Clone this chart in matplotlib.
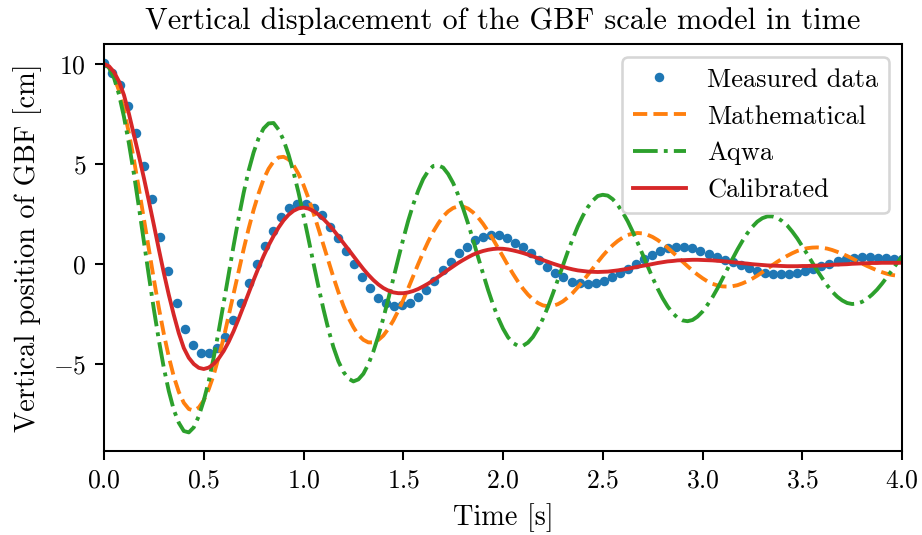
import numpy as np
import matplotlib
matplotlib.use("Agg")
import matplotlib.pyplot as plt

# Measured heave of the scale model, sampled 100 times over 4 s
t_measured = np.linspace(0.0, 4.0, 100)
z_measured = [
    10.07, 9.57, 8.97, 7.90, 6.53, 4.92, 3.23, 1.37, -0.33, -1.93,
    -3.23, -4.03, -4.43, -4.43, -4.20, -3.63, -2.80, -1.93, -0.97, 0.00,
    0.90, 1.67, 2.37, 2.78, 3.00, 3.00, 2.78, 2.45, 1.87, 1.28,
    0.67, -0.02, -0.67, -1.18, -1.68, -1.97, -2.08, -2.05, -1.93, -1.67,
    -1.30, -0.83, -0.30, 0.12, 0.53, 0.87, 1.20, 1.37, 1.45, 1.45,
    1.28, 1.07, 0.87, 0.57, 0.20, -0.13, -0.47, -0.67, -0.88, -0.93,
    -1.00, -0.97, -0.83, -0.63, -0.45, -0.24, 0.00, 0.25, 0.47, 0.66,
    0.80, 0.86, 0.86, 0.78, 0.66, 0.50, 0.35, 0.22, 0.08, -0.05,
    -0.20, -0.33, -0.44, -0.50, -0.52, -0.50, -0.44, -0.35, -0.23, -0.11,
    0.02, 0.14, 0.24, 0.30, 0.33, 0.33, 0.32, 0.30, 0.27, 0.25,
]

# Model responses, tabulated every 0.025 s (one row = 0.25 s)
t_model = np.linspace(0.0, 4.0, 161)
z_mathematical = [
    10.00, 9.84, 9.39, 8.67, 7.71, 6.54, 5.21, 3.76, 2.25, 0.73,
    -0.77, -2.20, -3.50, -4.65, -5.63, -6.40, -6.94, -7.25, -7.33, -7.18,
    -6.82, -6.26, -5.54, -4.65, -3.69, -2.59, -1.47, -0.36, 0.74, 1.77,
    2.71, 3.53, 4.24, 4.76, 5.13, 5.33, 5.36, 5.23, 4.94, 4.50,
    3.95, 3.29, 2.55, 1.76, 0.95, 0.13, -0.66, -1.41, -2.09, -2.68,
    -3.16, -3.55, -3.79, -3.92, -3.92, -3.80, -3.58, -3.24, -2.83, -2.34,
    -1.79, -1.21, -0.60, 0.00, 0.58, 1.12, 1.61, 2.02, 2.38, 2.63,
    2.80, 2.88, 2.87, 2.77, 2.58, 2.33, 2.01, 1.64, 1.24, 0.81,
    0.37, -0.07, -0.49, -0.88, -1.23, -1.53, -1.77, -1.95, -2.07, -2.11,
    -2.09, -2.01, -1.87, -1.67, -1.44, -1.16, -0.86, -0.54, -0.22, 0.10,
    0.41, 0.69, 0.94, 1.15, 1.32, 1.45, 1.52, 1.55, 1.53, 1.46,
    1.35, 1.20, 1.02, 0.82, 0.59, 0.36, 0.12, -0.11, -0.33, -0.53,
    -0.71, -0.87, -0.99, -1.07, -1.12, -1.13, -1.11, -1.06, -0.97, -0.86,
    -0.73, -0.58, -0.41, -0.23, -0.06, 0.11, 0.27, 0.41, 0.54, 0.65,
    0.73, 0.79, 0.82, 0.83, 0.81, 0.77, 0.70, 0.61, 0.51, 0.40,
    0.28, 0.15, 0.02, -0.10, -0.21, -0.32, -0.41, -0.49, -0.55, -0.58,
    -0.61,
]
z_aqwa = [
    10.00, 9.82, 9.31, 8.48, 7.36, 6.02, 4.50, 2.84, 1.12, -0.60,
    -2.27, -3.81, -5.20, -6.36, -7.30, -7.94, -8.35, -8.42, -8.17, -7.61,
    -6.83, -5.86, -4.67, -3.35, -1.94, -0.49, 0.94, 2.30, 3.56, 4.67,
    5.58, 6.29, 6.78, 7.03, 7.05, 6.72, 6.20, 5.47, 4.59, 3.57,
    2.43, 1.25, 0.04, -1.14, -2.26, -3.28, -4.16, -4.87, -5.39, -5.73,
    -5.87, -5.77, -5.49, -5.01, -4.38, -3.60, -2.72, -1.75, -0.74, 0.27,
    1.25, 2.17, 2.98, 3.67, 4.25, 4.65, 4.90, 4.93, 4.82, 4.50,
    4.05, 3.46, 2.78, 2.02, 1.20, 0.35, -0.48, -1.29, -2.03, -2.68,
    -3.23, -3.66, -3.95, -4.09, -4.09, -3.93, -3.65, -3.24, -2.74, -2.15,
    -1.48, -0.79, -0.08, 0.62, 1.27, 1.88, 2.40, 2.84, 3.17, 3.40,
    3.46, 3.42, 3.24, 2.95, 2.58, 2.14, 1.62, 1.06, 0.48, -0.11,
    -0.69, -1.23, -1.71, -2.12, -2.45, -2.69, -2.82, -2.86, -2.80, -2.63,
    -2.38, -2.04, -1.66, -1.22, -0.74, -0.25, 0.25, 0.72, 1.15, 1.54,
    1.86, 2.12, 2.29, 2.38, 2.38, 2.31, 2.14, 1.92, 1.62, 1.28,
    0.89, 0.49, 0.08, -0.33, -0.71, -1.07, -1.38, -1.63, -1.82, -1.95,
    -2.00, -1.98, -1.89, -1.74, -1.53, -1.28, -0.98, -0.65, -0.31, 0.04,
    0.37,
]
z_calibrated = [
    10.00, 9.89, 9.60, 9.13, 8.45, 7.51, 6.45, 5.40, 4.30, 3.14,
    1.95, 0.73, -0.45, -1.55, -2.55, -3.46, -4.20, -4.69, -5.00, -5.19,
    -5.25, -5.18, -5.00, -4.72, -4.35, -3.89, -3.35, -2.74, -2.10, -1.45,
    -0.80, -0.18, 0.40, 0.93, 1.40, 1.82, 2.18, 2.46, 2.66, 2.78,
    2.82, 2.77, 2.65, 2.47, 2.25, 1.99, 1.70, 1.38, 1.05, 0.73,
    0.40, 0.07, -0.25, -0.54, -0.80, -1.02, -1.20, -1.33, -1.42, -1.46,
    -1.46, -1.42, -1.35, -1.25, -1.12, -0.98, -0.82, -0.65, -0.47, -0.29,
    -0.12, 0.05, 0.20, 0.34, 0.47, 0.57, 0.65, 0.71, 0.75, 0.77,
    0.76, 0.73, 0.68, 0.62, 0.55, 0.47, 0.38, 0.29, 0.20, 0.11,
    0.02, -0.06, -0.14, -0.21, -0.27, -0.32, -0.35, -0.38, -0.39, -0.40,
    -0.39, -0.38, -0.35, -0.32, -0.28, -0.24, -0.19, -0.14, -0.09, -0.05,
    0.00, 0.05, 0.09, 0.13, 0.15, 0.18, 0.19, 0.20, 0.21, 0.21,
    0.20, 0.19, 0.18, 0.16, 0.14, 0.12, 0.09, 0.07, 0.04, 0.02,
    -0.01, -0.03, -0.05, -0.07, -0.08, -0.09, -0.10, -0.11, -0.11, -0.11,
    -0.10, -0.10, -0.09, -0.08, -0.07, -0.06, -0.04, -0.03, -0.02, -0.01,
    0.01, 0.02, 0.03, 0.04, 0.05, 0.05, 0.06, 0.06, 0.06, 0.06,
    0.06,
]

x_ticks = [0.0, 0.5, 1.0, 1.5, 2.0, 2.5, 3.0, 3.5, 4.0]
y_ticks = [-5, 0, 5, 10]

plt.rcParams.update({
    "font.family": "cmr10",
    "mathtext.fontset": "cm",
    "axes.formatter.use_mathtext": True,
    "font.size": 10,
})

DPI = 185
fig = plt.figure(figsize=(922 / DPI, 535 / DPI), dpi=DPI)
ax = fig.add_axes([104 / 922, 84 / 535, 798 / 922, 407 / 535])

ax.plot(t_measured, z_measured, "o", color="tab:blue", ms=2.9, mew=0.8,
        label="Measured data")
ax.plot(t_model, z_mathematical, "--", color="tab:orange", label="Mathematical")
ax.plot(t_model, z_aqwa, "-.", color="tab:green", label="Aqwa")
ax.plot(t_model, z_calibrated, "-", color="tab:red", label="Calibrated")

ax.set_xlim(0.0, 4.0)
ax.set_ylim(-9.35, 11.0)
ax.set_xticks(x_ticks)
ax.set_yticks(y_ticks)
ax.tick_params(labelsize=10)
ax.set_xlabel("Time [s]", fontsize=11)
ax.set_ylabel("Vertical position of GBF [cm]", fontsize=11)
ax.set_title("Vertical displacement of the GBF scale model in time",
             fontsize=11.8)
ax.legend(loc="upper right", fontsize=10.3)

fig.savefig("out.png", dpi=DPI)
